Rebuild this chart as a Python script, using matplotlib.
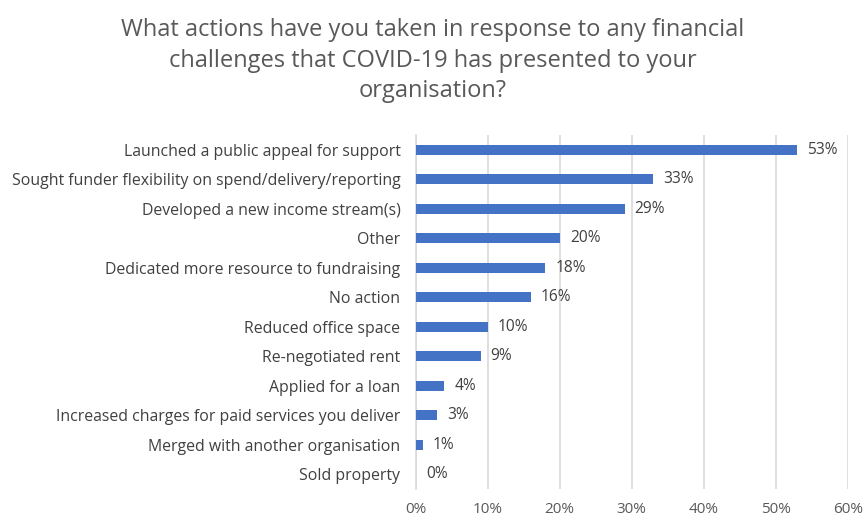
import numpy as np
from matplotlib import pyplot as plt

plt.rcParams['font.family'] = ['Open Sans', 'DejaVu Sans']

# Svar (uppifrån och ner)
actions = [
    "Launched a public appeal for support",
    "Sought funder flexibility on spend/delivery/reporting",
    "Developed a new income stream(s)",
    "Other",
    "Dedicated more resource to fundraising",
    "No action",
    "Reduced office space",
    "Re-negotiated rent",
    "Applied for a loan",
    "Increased charges for paid services you deliver",
    "Merged with another organisation",
    "Sold property",
]
percent = [53, 33, 29, 20, 18, 16, 10, 9, 4, 3, 1, 0]
xticks = [0, 10, 20, 30, 40, 50, 60]

grey = "#595959"
blue = "#4472C4"

fig = plt.figure(figsize=(8.66, 5.2), dpi=100)
ax = fig.add_axes([0.480, 0.0596, 0.499, 0.6808])

y = np.arange(len(actions))
ax.barh(y, percent, height=0.34, color=blue, zorder=3)

for yi, v in zip(y, percent):
    ax.text(v + 1.4, yi, f"{v}%", va="center", ha="left", fontsize=11.2, color="#404040")

ax.set_xlim(0, 60)
ax.set_ylim(len(actions) - 0.5, -0.5)
ax.set_yticks(y)
ax.set_yticklabels(actions, fontsize=11.4, color="#404040")
ax.set_xticks(xticks)
ax.set_xticklabels([f"{t}%" for t in xticks], fontsize=11, color=grey)
ax.tick_params(length=0)
ax.tick_params(axis="y", pad=11)
ax.tick_params(axis="x", pad=9)

ax.grid(axis="x", color="#d9d9d9", linewidth=1.2, zorder=0)
for s in ["top", "right", "bottom"]:
    ax.spines[s].set_visible(False)
ax.spines["left"].set_color("#d9d9d9")
ax.spines["left"].set_linewidth(1.2)

fig.text(0.5, 0.965, "What actions have you taken in response to any financial\n"
         "challenges that COVID-19 has presented to your\norganisation?",
         ha="center", va="top", fontsize=17, color=grey, linespacing=1.36)

plt.savefig("out.png", dpi=100)
